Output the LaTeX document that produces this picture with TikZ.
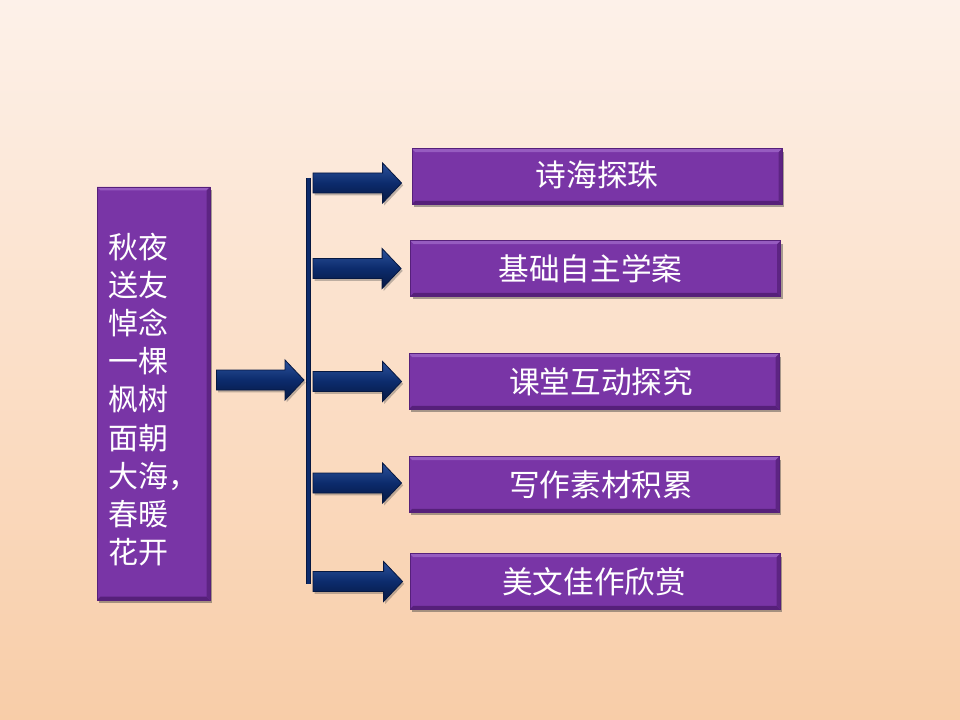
\documentclass[tikz,border=0pt]{standalone}
\usepackage{fontspec}
\newfontfamily\cjk{Noto Sans CJK SC}
\usetikzlibrary{calc,shadows}
\definecolor{bgtop}{RGB}{253,241,233}
\definecolor{bgmid}{RGB}{251,223,200}
\definecolor{bgbot}{RGB}{248,205,168}
\definecolor{boxfill}{RGB}{121,53,166}
\definecolor{boxedge}{RGB}{86,32,122}
\definecolor{boxlight}{RGB}{150,92,192}
\definecolor{navy}{RGB}{12,43,108}
\definecolor{navydark}{RGB}{6,24,66}
\definecolor{navylight}{RGB}{44,82,156}
\newcommand\fatarrow[2]{%
  \path[barrow] ($(#1)+(0,-10)$) -- ($(#2)+(-19,-10)$) -- ($(#2)+(-19,-20)$) -- (#2)
    -- ($(#2)+(-19,20)$) -- ($(#2)+(-19,10)$) -- ($(#1)+(0,10)$) -- cycle;}
\begin{document}
\begin{tikzpicture}[x=0.75pt,y=-0.75pt,
  pbox/.style={rectangle, fill=boxfill, draw=boxedge, line width=0.6pt, inner sep=0pt,
    drop shadow={shadow xshift=1.8pt, shadow yshift=-2.2pt, opacity=0.45, fill=black!75},
    path picture={
      \fill[boxlight] (path picture bounding box.north west) -- (path picture bounding box.north east)
        -- ([xshift=-2.5pt,yshift=-2.5pt]path picture bounding box.north east)
        -- ([xshift=2.5pt,yshift=-2.5pt]path picture bounding box.north west) -- cycle;
      \fill[boxedge] (path picture bounding box.south west) -- (path picture bounding box.south east)
        -- ([xshift=-2.5pt,yshift=2.5pt]path picture bounding box.south east)
        -- ([xshift=2.5pt,yshift=2.5pt]path picture bounding box.south west) -- cycle;
      \fill[boxedge!80!boxfill] (path picture bounding box.north east) -- (path picture bounding box.south east)
        -- ([xshift=-2.5pt,yshift=2.5pt]path picture bounding box.south east)
        -- ([xshift=-2.5pt,yshift=-2.5pt]path picture bounding box.north east) -- cycle;
    }},
  rbox/.style={pbox, minimum width=277.5pt, minimum height=41.5pt},
  btext/.style={text=white, inner sep=0pt, font=\cjk\fontsize{23pt}{27pt}\selectfont},
  ltext/.style={text=white, inner sep=0pt, align=left, font=\cjk\fontsize{22.5pt}{28.6pt}\selectfont},
  barrow/.style={draw=navydark, line width=0.6pt, top color=navylight, bottom color=navydark, middle color=navy,
    drop shadow={shadow xshift=1.2pt, shadow yshift=-1.8pt, opacity=0.35, fill=black!70}},
  busouter/.style={draw=navydark, line width=4pt},
  businner/.style={draw=navy, line width=2pt}]
\useasboundingbox (0,0) rectangle (960,720);
\shade[top color=bgtop, bottom color=bgbot, middle color=bgmid] (0,0) rectangle (960,720);

% left box
\node[pbox, minimum width=84.75pt, minimum height=309.75pt] (L) at (153.5,393.5) {};
\node[ltext] (Lt) at ($(L.center)+(0,6)$) {秋夜\\送友\\悼念\\一棵\\枫树\\面朝\\大海，\\春暖\\花开};

% right boxes
\node[rbox] (b1) at (597,176.5) {};
\node[rbox] (b2) at (595.5,268.5) {};
\node[rbox] (b3) at (594,381.5) {};
\node[rbox] (b4) at (594,484.5) {};
\node[rbox] (b5) at (595,581.5) {};
\node[btext] (t1) at ($(b1.center)+(0,-2)$) {诗海探珠};
\node[btext] (t2) at ($(b2.center)+(-5,0)$) {基础自主学案};
\node[btext] (t3) at ($(b3.center)+(7,0)$) {课堂互动探究};
\node[btext] (t4) at ($(b4.center)+(7,0)$) {写作素材积累};
\node[btext] (t5) at ($(b5.center)+(-1,0)$) {美文佳作欣赏};

% bus line
\coordinate (bt) at (308.5,178);
\coordinate (bb) at (308.5,584);
\draw[busouter] (bt) -- (bb);
\draw[businner] (bt) -- (bb);

% arrow tips and starts
\coordinate (e1) at ($(b1.west)+(-10,6.5)$);
\coordinate (e2) at ($(b2.west)+(-9,0)$);
\coordinate (e3) at ($(b3.west)+(-7,0)$);
\coordinate (e4) at ($(b4.west)+(-7,-1.5)$);
\coordinate (e5) at ($(b5.west)+(-7,0)$);
\foreach \i in {1,...,5}{
  \coordinate (s\i) at ($(bt |- e\i)+(4.5,0)$);
  \fatarrow{s\i}{e\i}
}
% left arrow
\coordinate (ls) at ($(L.east)+(6,-13.5)$);
\coordinate (le) at ($(bt |- ls)+(-4.5,0)$);
\fatarrow{ls}{le}
\end{tikzpicture}
\end{document}
